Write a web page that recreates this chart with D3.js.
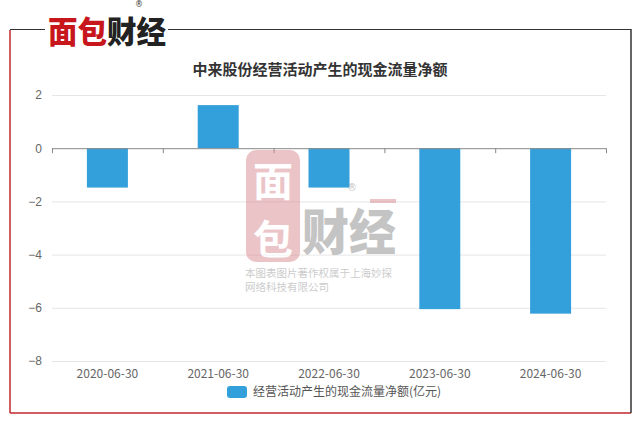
<!DOCTYPE html>
<html lang="zh">
<head>
<meta charset="UTF-8">
<title>中来股份经营活动产生的现金流量净额</title>
<script src="https://d3js.org/d3.v7.min.js"></script>
<style>
  html, body { margin: 0; padding: 0; background: #fff; }
  body { width: 640px; height: 424px; overflow: hidden; font-family: 'Noto Sans CJK SC', 'Noto Sans', sans-serif; }
  .tick-label { fill: #666; font-size: 12px; }
</style>
</head>
<body>
<div id="chart"></div>
<script>
// data
var categories = ['2020-06-30', '2021-06-30', '2022-06-30', '2023-06-30', '2024-06-30'];
var cashFlow = [-1.48, 1.62, -1.48, -6.05, -6.22];
var yTicks = [2, 0, -2, -4, -6, -8];
var seriesName = '经营活动产生的现金流量净额(亿元)';
var chartTitle = '中来股份经营活动产生的现金流量净额';

var width = 640, height = 424;
var plot = {left: 52, right: 606, top: 95, bottom: 361};

var svg = d3.select('#chart').append('svg')
  .attr('width', width)
  .attr('height', height);

// frame
svg.append('line').attr('x1', 10).attr('y1', 30).attr('x2', 10).attr('y2', 413)
  .attr('stroke', '#c0272d').attr('stroke-width', 1.5);
svg.append('line').attr('x1', 10).attr('y1', 413).attr('x2', 631).attr('y2', 413)
  .attr('stroke', '#c0272d').attr('stroke-width', 1.5);
svg.append('line').attr('x1', 631).attr('y1', 29).attr('x2', 631).attr('y2', 413)
  .attr('stroke', '#333').attr('stroke-width', 1.5);
svg.append('line').attr('x1', 10).attr('y1', 29.5).attr('x2', 45).attr('y2', 29.5)
  .attr('stroke', '#333').attr('stroke-width', 1.2);
svg.append('line').attr('x1', 168).attr('y1', 29.5).attr('x2', 631).attr('y2', 29.5)
  .attr('stroke', '#333').attr('stroke-width', 1.2);

// logo
var logo = svg.append('text')
  .attr('transform', 'translate(48,43) scale(1,1.08)')
  .attr('font-size', 28).attr('font-weight', 900)
  .attr('textLength', 118).attr('lengthAdjust', 'spacingAndGlyphs');
logo.append('tspan').attr('fill', '#c8161d').text('面包');
logo.append('tspan').attr('fill', '#222').text('财经');
svg.append('text').attr('x', 139).attr('y', 7)
  .attr('font-family', 'DejaVu Sans').attr('font-size', 8).attr('fill', '#333')
  .attr('text-anchor', 'middle').text('®');

// title
svg.append('text')
  .attr('x', 320).attr('y', 75)
  .attr('text-anchor', 'middle')
  .attr('font-size', 15).attr('font-weight', 700)
  .attr('fill', '#333')
  .text(chartTitle);

var x = d3.scaleBand().domain(categories).range([plot.left, plot.right]).paddingInner(0).paddingOuter(0);
var y = d3.scaleLinear().domain([-8, 2]).range([plot.bottom, plot.top]);

// grid
svg.append('g').selectAll('line')
  .data(yTicks.filter(function(d) { return d !== 0; }))
  .enter().append('line')
  .attr('x1', plot.left).attr('x2', plot.right)
  .attr('y1', function(d) { return y(d) + 0.5; })
  .attr('y2', function(d) { return y(d) + 0.5; })
  .attr('stroke', '#e6e6e6').attr('stroke-width', 1);

// y labels
var yAxis = svg.append('g')
  .attr('transform', 'translate(' + plot.left + ',0)')
  .call(d3.axisLeft(y).tickValues(yTicks).tickSize(0).tickPadding(10));
yAxis.select('.domain').remove();
yAxis.selectAll('text').attr('class', 'tick-label').attr('font-family', null).attr('font-size', null);

// bars
svg.append('g').selectAll('rect')
  .data(cashFlow)
  .enter().append('rect')
  .attr('x', function(d, i) { return x(categories[i]) + x.bandwidth() * 0.315; })
  .attr('width', x.bandwidth() * 0.37)
  .attr('y', function(d) { return y(Math.max(0, d)); })
  .attr('height', function(d) { return Math.abs(y(d) - y(0)); })
  .attr('fill', '#34a0db');

// zero axis with boundary ticks
var bounds = categories.map(function(c) { return x(c); }).concat([plot.right]);
var zero = svg.append('g');
zero.append('line')
  .attr('x1', plot.left).attr('x2', plot.right)
  .attr('y1', y(0) + 0.5).attr('y2', y(0) + 0.5)
  .attr('stroke', '#888');
zero.selectAll('.zt').data(bounds).enter().append('line')
  .attr('class', 'zt')
  .attr('x1', function(d) { return d + 0.5; }).attr('x2', function(d) { return d + 0.5; })
  .attr('y1', y(0)).attr('y2', y(0) + 5)
  .attr('stroke', '#888');

// x labels
svg.append('g').selectAll('text')
  .data(categories)
  .enter().append('text')
  .attr('class', 'tick-label')
  .attr('x', function(d) { return x(d) + x.bandwidth() / 2; })
  .attr('y', 378)
  .attr('text-anchor', 'middle')
  .text(function(d) { return d; });

// legend
svg.append('rect').attr('x', 227).attr('y', 386).attr('width', 20).attr('height', 12)
  .attr('rx', 3).attr('fill', '#34a0db');
svg.append('text').attr('x', 253).attr('y', 396)
  .attr('font-size', 12).attr('fill', '#555')
  .text(seriesName);

// watermark
var wm = svg.append('g').attr('opacity', 0.5);
wm.append('rect').attr('x', 246).attr('y', 150).attr('width', 54).attr('height', 112)
  .attr('rx', 10).attr('fill', '#d98a92');
wm.append('text').attr('x', 273).attr('y', 196).attr('text-anchor', 'middle')
  .attr('font-size', 40).attr('font-weight', 700).attr('fill', '#fff').text('面');
wm.append('text').attr('x', 273).attr('y', 254).attr('text-anchor', 'middle')
  .attr('font-size', 40).attr('font-weight', 700).attr('fill', '#fff').text('包');
wm.append('text').attr('transform', 'translate(302,250) scale(1,1.1)')
  .attr('font-size', 44).attr('font-weight', 900).attr('fill', '#8a8a8a')
  .attr('textLength', 94).attr('lengthAdjust', 'spacingAndGlyphs').text('财经');
wm.append('text').attr('x', 352).attr('y', 191).attr('text-anchor', 'middle')
  .attr('font-family', 'DejaVu Sans').attr('font-size', 10).attr('fill', '#8a8a8a').text('®');
wm.append('rect').attr('x', 370).attr('y', 199).attr('width', 26).attr('height', 4)
  .attr('fill', '#d98a92');
wm.append('text').attr('x', 245).attr('y', 277)
  .attr('font-size', 10.5).attr('fill', '#999').text('本图表图片著作权属于上海妙探');
wm.append('text').attr('x', 245).attr('y', 291)
  .attr('font-size', 10.5).attr('fill', '#999').text('网络科技有限公司');
</script>
</body>
</html>
